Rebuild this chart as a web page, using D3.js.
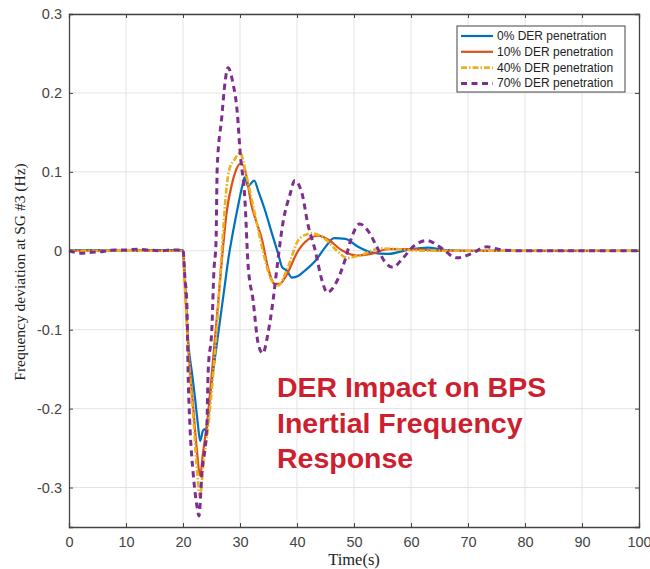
<!DOCTYPE html>
<html>
<head><meta charset="utf-8"></head>
<style>
  html, body { margin: 0; background: #fff; }
  svg { display: block; }
</style>
<body>
<svg width="650" height="569"></svg>
<script src="https://cdnjs.cloudflare.com/ajax/libs/d3/7.8.5/d3.min.js"></script>
<script>
  // x/y ticks
  const xTicks = [0, 10, 20, 30, 40, 50, 60, 70, 80, 90, 100];
  const yTicks = [-0.3, -0.2, -0.1, 0, 0.1, 0.2, 0.3];
  const legendLabels = ['0% DER penetration', '10% DER penetration', '40% DER penetration', '70% DER penetration'];

  // 0% DER
  const t0 = [0, 5, 10, 15, 20, 20.3, 20.9, 21.6, 22.1, 22.6, 23.0, 23.5, 24.2, 24.7, 25.6, 26.8, 27.4, 27.9, 28.6, 29.5, 30.4, 30.8, 31.4, 32.5, 33.2, 34.4, 35.6, 36.7, 37.4, 38.2, 39.1, 40.2, 41.4, 43.2, 44.9, 46.5, 48.5, 50.5, 53, 56, 60, 63, 66, 70, 80, 90, 100];
  const v0 = [0.001, 0.001, 0, 0.001, 0.001, -0.03, -0.114, -0.156, -0.186, -0.219, -0.241, -0.228, -0.224, -0.186, -0.136, -0.072, -0.04, -0.013, 0.017, 0.051, 0.082, 0.093, 0.082, 0.089, 0.076, 0.051, 0.022, -0.004, -0.021, -0.025, -0.034, -0.032, -0.025, -0.013, 0.004, 0.016, 0.015, 0.006, -0.002, -0.004, 0.002, 0.004, 0.001, 0, 0, 0, 0];

  // 10% DER
  const t10 = [0, 20, 20.3, 20.9, 21.8, 22.4, 23.0, 23.5, 24.4, 25.3, 26.1, 26.9, 27.7, 28.6, 29.1, 30.0, 30.6, 32.1, 33.9, 34.9, 36.1, 37.0, 37.9, 40.2, 42.6, 43.8, 45.5, 48, 50.5, 53, 56, 60, 65, 70, 100];
  const v10 = [0, 0, -0.04, -0.12, -0.199, -0.25, -0.285, -0.257, -0.207, -0.136, -0.072, -0.005, 0.051, 0.085, 0.098, 0.11, 0.108, 0.055, 0.013, -0.021, -0.042, -0.042, -0.034, 0, 0.017, 0.019, 0.014, 0, -0.006, -0.004, 0.002, 0.002, 0, 0, 0];

  // 40% DER
  const t40 = [0, 20, 20.3, 20.9, 21.8, 22.6, 23.0, 23.5, 24.4, 25.3, 26.1, 26.5, 27.0, 27.5, 28.2, 29.0, 30.0, 31.2, 32.6, 34.0, 35.6, 36.7, 38.4, 40.2, 41.8, 42.6, 44.9, 47, 48.8, 51, 54.6, 58, 62, 70, 100];
  const v40 = [0, 0, -0.04, -0.125, -0.21, -0.29, -0.313, -0.275, -0.224, -0.156, -0.08, -0.035, 0.02, 0.07, 0.105, 0.115, 0.124, 0.093, 0.047, 0, -0.038, -0.044, -0.021, 0.013, 0.021, 0.022, 0.015, 0, -0.009, -0.006, 0.003, 0.002, 0, 0, 0];

  // 70% DER
  const t70 = [0, 2, 4, 6, 8, 10, 12, 14, 16, 18, 20, 20.3, 20.7, 20.9, 21.2, 21.8, 22.5, 22.8, 23.3, 24.2, 24.4, 25.1, 25.4, 25.8, 26.0, 26.8, 27.4, 27.9, 28.8, 29.5, 30.0, 30.9, 31.4, 32.3, 33.2, 34.0, 34.9, 35.8, 36.5, 37.5, 38.8, 39.6, 40.9, 41.9, 43.2, 44.4, 45.3, 46.5, 48.5, 49.5, 51, 52.5, 54, 55.5, 56.8, 58.5, 60.5, 62.8, 65, 68.1, 70.5, 73.3, 76, 80, 100];
  const v70 = [0, -0.003, -0.002, -0.001, 0.001, 0.001, 0.002, 0.001, 0, 0.001, 0.001, -0.03, -0.072, -0.156, -0.219, -0.283, -0.326, -0.336, -0.283, -0.219, -0.156, -0.093, -0.029, 0.013, 0.105, 0.169, 0.215, 0.232, 0.211, 0.177, 0.127, 0.06, -0.016, -0.063, -0.118, -0.13, -0.105, -0.063, -0.021, 0.034, 0.072, 0.089, 0.072, 0.034, 0, -0.038, -0.053, -0.045, -0.01, 0.015, 0.034, 0.025, 0.005, -0.015, -0.021, -0.01, 0.006, 0.013, 0.005, -0.009, -0.004, 0.005, 0.001, 0, 0];

  const series = [
    {t: t0, v: v0, color: '#0072BD', width: 2.2, dash: null},
    {t: t10, v: v10, color: '#D95319', width: 2.2, dash: null},
    {t: t40, v: v40, color: '#EDB120', width: 2.6, dash: '6,2,1.5,2'},
    {t: t70, v: v70, color: '#7E2F8E', width: 3, dash: '6,4.5'}
  ];

  const svg = d3.select('svg');
  const pLeft = 69, pTop = 14, pRight = 639, pBottom = 527;

  const x = d3.scaleLinear().domain([0, 100]).range([pLeft, pRight]);
  const y = d3.scaleLinear().domain([-0.35, 0.3]).range([pBottom, pTop]);

  // grid
  svg.append('g').selectAll('line').data(xTicks.slice(1, -1)).join('line')
    .attr('x1', d => x(d)).attr('x2', d => x(d))
    .attr('y1', pTop).attr('y2', pBottom)
    .attr('stroke', '#e3e3e3').attr('stroke-width', 1);
  svg.append('g').selectAll('line').data(yTicks).join('line')
    .attr('x1', pLeft).attr('x2', pRight)
    .attr('y1', d => y(d)).attr('y2', d => y(d))
    .attr('stroke', '#e3e3e3').attr('stroke-width', 1);

  // curves
  const line = d3.line()
    .x(d => x(d[0])).y(d => y(d[1]))
    .curve(d3.curveMonotoneX);

  series.forEach(s => {
    svg.append('path')
      .datum(s.t.map((t, i) => [t, s.v[i]]))
      .attr('d', line)
      .attr('fill', 'none')
      .attr('stroke', s.color)
      .attr('stroke-width', s.width)
      .attr('stroke-dasharray', s.dash);
  });

  // axes (ticks inward, box on top/right)
  const tickFont = g => g.selectAll('text')
    .attr('font-family', 'Liberation Sans, Arial, sans-serif')
    .attr('font-size', 14.5).attr('fill', '#444');

  svg.append('g').attr('transform', `translate(0,${pBottom})`)
    .call(d3.axisBottom(x).tickValues(xTicks).tickSize(-4).tickPadding(10).tickFormat(d3.format('d')))
    .call(g => g.select('.domain').attr('stroke', '#444').attr('stroke-width', 1.3))
    .call(g => g.selectAll('line').attr('stroke', '#444'))
    .call(tickFont);

  svg.append('g').attr('transform', `translate(${pLeft},0)`)
    .call(d3.axisLeft(y).tickValues(yTicks).tickSize(-4).tickPadding(7)
      .tickFormat(d => d === 0 ? '0' : (d < 0 ? '-' : '') + Math.abs(d).toFixed(1)))
    .call(g => g.select('.domain').attr('stroke', '#444').attr('stroke-width', 1.3))
    .call(g => g.selectAll('line').attr('stroke', '#444'))
    .call(tickFont);

  svg.append('g').attr('transform', `translate(0,${pTop})`)
    .call(d3.axisTop(x).tickValues(xTicks).tickSize(-4).tickFormat(''))
    .call(g => g.select('.domain').attr('stroke', '#444').attr('stroke-width', 1.3))
    .call(g => g.selectAll('line').attr('stroke', '#444'));

  svg.append('g').attr('transform', `translate(${pRight},0)`)
    .call(d3.axisRight(y).tickValues(yTicks).tickSize(-4).tickFormat(''))
    .call(g => g.select('.domain').attr('stroke', '#444').attr('stroke-width', 1.3))
    .call(g => g.selectAll('line').attr('stroke', '#444'));

  // axis titles
  svg.append('text')
    .attr('x', (pLeft + pRight) / 2).attr('y', 565)
    .attr('text-anchor', 'middle')
    .attr('font-family', 'Liberation Serif, Times New Roman, serif')
    .attr('font-size', 16.5).attr('fill', '#222')
    .text('Time(s)');

  svg.append('text')
    .attr('transform', 'translate(25,272) rotate(-90)')
    .attr('text-anchor', 'middle')
    .attr('font-family', 'Liberation Serif, Times New Roman, serif')
    .attr('font-size', 15.5).attr('fill', '#222')
    .text('Frequency deviation at SG #3 (Hz)');

  // legend
  const lg = svg.append('g');
  lg.append('rect')
    .attr('x', 457).attr('y', 26).attr('width', 168).attr('height', 66)
    .attr('fill', '#fff').attr('stroke', '#444').attr('stroke-width', 1);
  legendLabels.forEach((lab, i) => {
    const yy = 36 + i * 15.8;
    const s = series[i];
    lg.append('line')
      .attr('x1', 461).attr('x2', 493).attr('y1', yy).attr('y2', yy)
      .attr('stroke', s.color).attr('stroke-width', s.width)
      .attr('stroke-dasharray', s.dash);
    lg.append('text')
      .attr('x', 497).attr('y', yy + 4)
      .attr('font-family', 'Liberation Sans, Arial, sans-serif')
      .attr('font-size', 12).attr('fill', '#222')
      .text(lab);
  });

  // annotation
  const note = ['DER Impact on BPS', 'Inertial Frequency', 'Response'];
  svg.append('g').selectAll('text').data(note).join('text')
    .attr('x', 277).attr('y', (d, i) => 397 + i * 35.5)
    .attr('font-family', 'Liberation Sans, Arial, sans-serif')
    .attr('font-weight', 'bold').attr('font-size', 28.5)
    .attr('fill', '#CC1F2F')
    .text(d => d);
</script>
</body>
</html>
